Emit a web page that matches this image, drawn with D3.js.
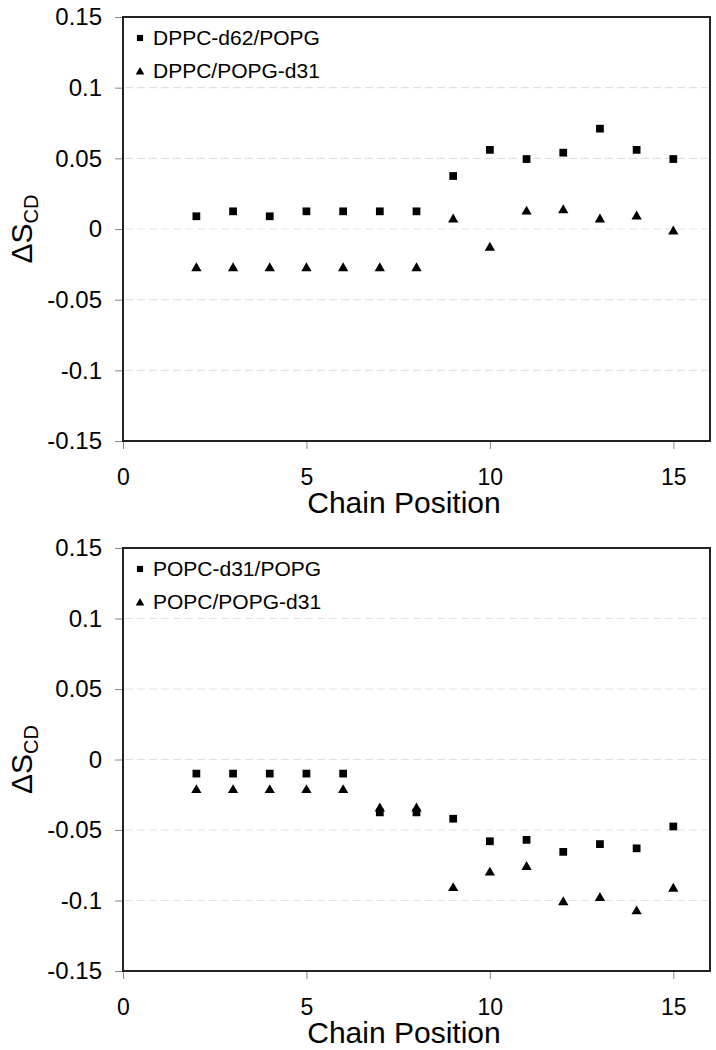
<!DOCTYPE html>
<html>
<head>
<meta charset="utf-8">
<script src="https://cdn.jsdelivr.net/npm/d3@7"></script>
<style>
  body { margin: 0; background: #fff; }
  svg { display: block; font-family: "Liberation Sans", Arial, sans-serif; }
</style>
</head>
<body>
<svg id="chart" width="716" height="1050"></svg>
<script>
// chain positions along the acyl chain
const positions = [2, 3, 4, 5, 6, 7, 8, 9, 10, 11, 12, 13, 14, 15];

// top panel
const dppcD62Popg = [0.009, 0.0125, 0.009, 0.0125, 0.0125, 0.0125, 0.0125, 0.0375, 0.056, 0.0495, 0.054, 0.071, 0.056, 0.0495];
const dppcPopgD31 = [-0.027, -0.027, -0.027, -0.027, -0.027, -0.027, -0.027, 0.0075, -0.0125, 0.013, 0.014, 0.0075, 0.0095, -0.001];

// bottom panel
const popcD31Popg = [-0.01, -0.01, -0.01, -0.01, -0.01, -0.0375, -0.0375, -0.042, -0.058, -0.057, -0.0655, -0.06, -0.063, -0.0475];
const popcPopgD31 = [-0.021, -0.021, -0.021, -0.021, -0.021, -0.034, -0.034, -0.0905, -0.0795, -0.0755, -0.1005, -0.0975, -0.107, -0.091];

const xTicks = [0, 5, 10, 15];
const yTicks = [-0.15, -0.1, -0.05, 0, 0.05, 0.1, 0.15];
const gridTicks = [-0.1, -0.05, 0, 0.05, 0.1];

const svg = d3.select("#chart");
const left = 123, right = 710;

const x = d3.scaleLinear().domain([0, 16]).range([left, right]);
const fmtY = (d) => (d === 0 ? "0" : String(+d.toFixed(2)));

function panel(top, bottom, squares, triangles, names) {
  const y = d3.scaleLinear().domain([-0.15, 0.15]).range([bottom, top]);
  const g = svg.append("g");

  // dashed gridlines
  g.selectAll(".grid")
    .data(gridTicks)
    .enter()
    .append("line")
    .attr("x1", left + 2)
    .attr("x2", right - 2)
    .attr("y1", (d) => y(d))
    .attr("y2", (d) => y(d))
    .attr("stroke", "#e2e2e2")
    .attr("stroke-width", 1.2)
    .attr("stroke-dasharray", "8,4");

  // y axis
  const ya = g.append("g")
    .attr("transform", `translate(${left},0)`)
    .call(d3.axisLeft(y).tickValues(yTicks).tickFormat(fmtY).tickSize(8).tickPadding(13));
  ya.select(".domain").remove();
  ya.selectAll(".tick line").attr("stroke", "#888");
  ya.selectAll(".tick text").attr("font-size", 24).attr("fill", "#000").attr("font-family", "Liberation Sans, Arial, sans-serif");

  // x axis
  const xa = g.append("g")
    .attr("transform", `translate(0,${bottom})`)
    .call(d3.axisBottom(x).tickValues(xTicks).tickSize(8).tickPadding(20));
  xa.select(".domain").remove();
  xa.selectAll(".tick line").attr("stroke", "#888");
  xa.selectAll(".tick text").attr("font-size", 23).attr("fill", "#000").attr("font-family", "Liberation Sans, Arial, sans-serif");

  // plot frame
  g.append("rect")
    .attr("x", left)
    .attr("y", top)
    .attr("width", right - left)
    .attr("height", bottom - top)
    .attr("fill", "none")
    .attr("stroke", "#222")
    .attr("stroke-width", 2);

  const sq = d3.symbol().type(d3.symbolSquare).size(60);
  const tri = d3.symbol().type(d3.symbolTriangle).size(46);

  g.selectAll(".sq")
    .data(squares)
    .enter()
    .append("path")
    .attr("d", sq)
    .attr("transform", (d, i) => `translate(${x(positions[i])},${y(d)})`)
    .attr("fill", "#000");

  g.selectAll(".tri")
    .data(triangles)
    .enter()
    .append("path")
    .attr("d", tri)
    .attr("transform", (d, i) => `translate(${x(positions[i])},${y(d) + 1})`)
    .attr("fill", "#000");

  // legend
  const lg = g.append("g").attr("transform", `translate(${left},${top})`);
  lg.append("path").attr("d", d3.symbol().type(d3.symbolSquare).size(38)).attr("transform", "translate(17,21)");
  lg.append("text").attr("x", 30).attr("y", 28).attr("font-size", 21).text(names[0]);
  lg.append("path").attr("d", d3.symbol().type(d3.symbolTriangle).size(32)).attr("transform", "translate(17,55)");
  lg.append("text").attr("x", 30).attr("y", 61).attr("font-size", 21).text(names[1]);

  // axis titles
  g.append("text")
    .attr("x", 404)
    .attr("y", bottom + 72)
    .attr("text-anchor", "middle")
    .attr("font-size", 30)
    .text("Chain Position");

  const yl = g.append("text")
    .attr("transform", `translate(32,${(top + bottom) / 2}) rotate(-90)`)
    .attr("text-anchor", "middle")
    .attr("font-size", 30);
  yl.append("tspan").text("ΔS");
  yl.append("tspan").attr("font-size", 20).attr("dy", 6).text("CD");
}

panel(17, 441, dppcD62Popg, dppcPopgD31, ["DPPC-d62/POPG", "DPPC/POPG-d31"]);
panel(548, 971, popcD31Popg, popcPopgD31, ["POPC-d31/POPG", "POPC/POPG-d31"]);
</script>
</body>
</html>
